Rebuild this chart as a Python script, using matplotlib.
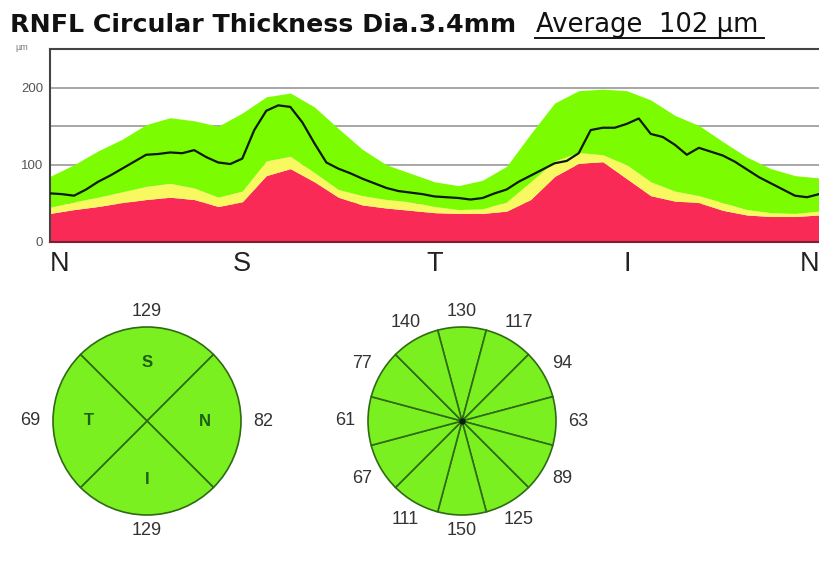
import matplotlib
matplotlib.use("Agg")
import matplotlib.pyplot as plt
from matplotlib.lines import Line2D
import numpy as np

# TSNIT profile, 256 samples around the circle (N-S-T-I-N)
band_pos = list(range(0, 257, 8))
green_upper = [85, 100, 118, 133, 152, 161, 157, 150, 167, 188, 193, 175, 147, 120, 100, 89, 78,
               73, 80, 98, 140, 180, 196, 198, 196, 184, 164, 151, 130, 110, 95, 86, 83]
yellow_upper = [45, 52, 58, 65, 72, 76, 70, 58, 66, 105, 111, 90, 68, 60, 55, 52, 46,
                42, 43, 52, 78, 105, 116, 113, 100, 78, 66, 60, 51, 42, 38, 37, 40]
red_upper = [37, 42, 46, 51, 55, 58, 55, 46, 52, 86, 95, 78, 58, 48, 44, 41, 38,
             37, 37, 40, 55, 85, 102, 104, 82, 60, 53, 51, 41, 35, 33, 33, 35]

line_pos = list(range(0, 257, 4))
thickness = [63, 62, 60, 68, 78, 86, 95, 104, 113, 114,
             116, 115, 119, 110, 103, 101, 108, 145, 170, 177,
             175, 155, 128, 103, 95, 89, 82, 76, 70, 66,
             64, 62, 59, 58, 57, 55, 57, 63, 68, 78,
             86, 94, 102, 105, 115, 145, 148, 148, 153, 160,
             140, 136, 126, 113, 122, 117, 112, 104, 94, 84,
             76, 68, 60, 58, 62]

x_labels = ['N', 'S', 'T', 'I', 'N']
x_label_pos = [0, 64, 128, 192, 256]
y_ticks = [0, 100, 200]
grid_levels = [50, 100, 150, 200]

# quadrants clockwise from top, clock hours clockwise from 12
quadrant_letters = ['S', 'N', 'I', 'T']
quadrant_values = [129, 82, 129, 69]
clock_values = [130, 117, 94, 63, 89, 125, 150, 111, 67, 61, 77, 140]

average = 102

W, H = 819, 570
green = '#7CFC00'
yellow = '#F8F860'
red = '#F92A55'
circle_green = '#7AF020'
edge_green = '#2F6A14'
text_gray = '#333333'

plt.rcParams['font.family'] = ['Liberation Sans', 'DejaVu Sans']

fig = plt.figure(figsize=(W / 100, H / 100), dpi=100)
fig.patch.set_facecolor('white')

# --- profile chart ---
ax = fig.add_axes([50 / W, (H - 242) / H, 769 / W, (242 - 49) / H])
for g in grid_levels:
    ax.axhline(g, color='#a0a0a0', lw=1.3, zorder=0)
ax.fill_between(band_pos, 0, red_upper, color=red, lw=0, zorder=1)
ax.fill_between(band_pos, red_upper, yellow_upper, color=yellow, lw=0, zorder=1)
ax.fill_between(band_pos, yellow_upper, green_upper, color=green, lw=0, zorder=1)
ax.plot(line_pos, thickness, color='#0a1a0a', lw=1.6, zorder=3)

ax.set_xlim(0, 256)
ax.set_ylim(0, 250)
ax.set_yticks(y_ticks)
ax.set_yticklabels([str(t) for t in y_ticks], fontsize=9.5, color='#555555')
ax.tick_params(axis='y', length=0, pad=5)
ax.set_xticks([])
for s in ['top', 'left']:
    ax.spines[s].set_color('#444444')
    ax.spines[s].set_linewidth(1.5)
ax.spines['bottom'].set_color('#7a2030')
ax.spines['bottom'].set_linewidth(1.5)
ax.spines['right'].set_visible(False)

for pos, lab in zip(x_label_pos, x_labels):
    ha = 'left' if pos == 0 else ('right' if pos == 256 else 'center')
    ax.text(pos, -12, lab, ha=ha, va='top', fontsize=19.5, color='#222222', clip_on=False)

fig.text(22 / W, 1 - 48 / H, 'µm', fontsize=6.5, color='#777777', ha='center', va='center')

# --- title ---
fig.text(10 / W, 1 - 32 / H, 'RNFL Circular Thickness Dia.3.4mm', fontsize=18.2,
         fontweight='bold', family='DejaVu Sans', ha='left', va='baseline', color='#111111')
fig.text(536 / W, 1 - 32 / H, f'Average  {average} µm', fontsize=18.6,
         family='DejaVu Sans', ha='left', va='baseline', color='#111111')
fig.add_artist(Line2D([535 / W, 764 / W], [1 - 38 / H, 1 - 38 / H],
                      color='#111111', lw=1.4, transform=fig.transFigure))

# --- circle plots ---
R = 94  # px per pie unit


def pie_axes(cx, cy):
    return fig.add_axes([(cx - 1.5 * R) / W, (H - cy - 1.5 * R) / H, 3 * R / W, 3 * R / H])


def place_labels(wedges, values, a):
    for w, v in zip(wedges, values):
        ang = np.deg2rad((w.theta1 + w.theta2) / 2)
        r = 1.17 + 0.07 * abs(np.cos(ang))
        a.text(r * np.cos(ang), r * np.sin(ang), str(v), ha='center', va='center',
               fontsize=13, color=text_gray)


axq = pie_axes(147, 421)
wedges, _ = axq.pie([1] * 4, startangle=135, counterclock=False,
                    colors=[circle_green] * 4,
                    wedgeprops=dict(edgecolor=edge_green, linewidth=1.2))
place_labels(wedges, quadrant_values, axq)
for w, lab in zip(wedges, quadrant_letters):
    ang = np.deg2rad((w.theta1 + w.theta2) / 2)
    axq.text(0.62 * np.cos(ang), 0.62 * np.sin(ang), lab, ha='center', va='center',
             fontsize=12, fontweight='bold', color='#1E5E16')
axq.set_xlim(-1.5, 1.5)
axq.set_ylim(-1.5, 1.5)
axq.set_aspect('equal')
axq.axis('off')

axc = pie_axes(462, 421)
wedges, _ = axc.pie([1] * 12, startangle=105, counterclock=False,
                    colors=[circle_green] * 12,
                    wedgeprops=dict(edgecolor=edge_green, linewidth=1.2))
place_labels(wedges, clock_values, axc)
axc.plot(0, 0, 'o', color='#0a200a', ms=3.5)
axc.set_xlim(-1.5, 1.5)
axc.set_ylim(-1.5, 1.5)
axc.set_aspect('equal')
axc.axis('off')

fig.savefig('out.png', dpi=100, facecolor='white')
